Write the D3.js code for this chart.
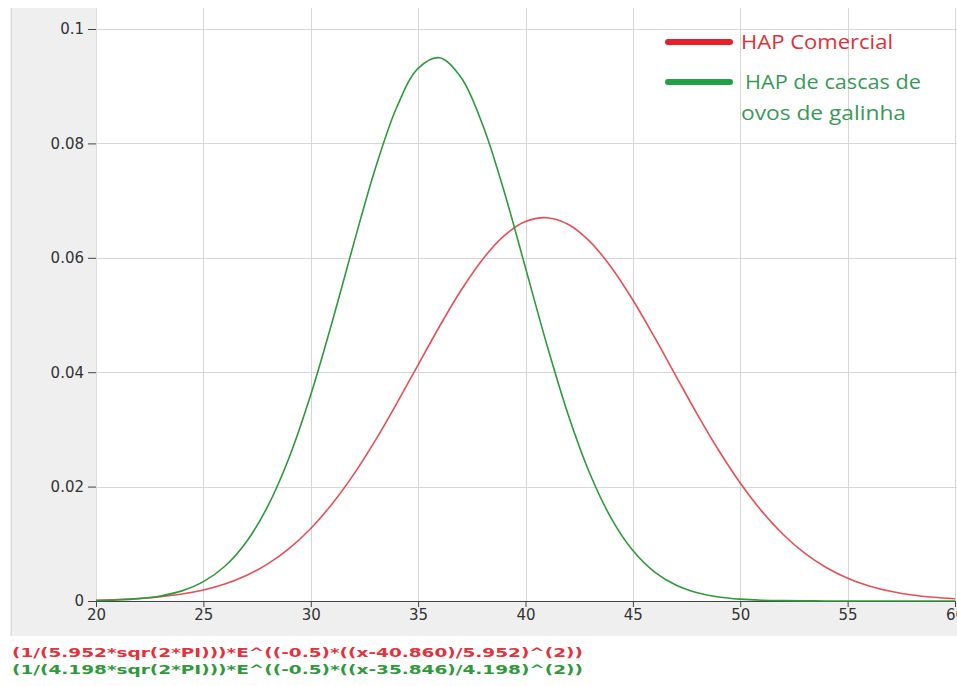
<!DOCTYPE html>
<html><head><meta charset="utf-8">
<script src="https://cdn.jsdelivr.net/npm/d3@7"></script>
<style>body{margin:0;background:#fff}svg{display:block}</style>
</head><body>
<script>
// x positions (integer steps) and curve values
const xValues = d3.range(20, 61);
const comercial = [0.000144,0.000256,0.000442,0.000743,0.00121,0.00193,0.00297,0.00445,0.00650,0.00920,
  0.01268,0.0170,0.02213,0.02803,0.03451,0.04129,0.04803,0.05432,0.05972,0.06383,
  0.06633,0.06701,0.06581,0.06283,0.05832,0.05262,0.04616,0.03937,0.03264,0.02631,
  0.02062,0.01571,0.01163,0.00837,0.00586,0.00399,0.00264,0.00170,0.00106,0.000644,0.000381];
const cascas = [0.0000766,0.000183,0.000413,0.000880,0.00177,0.00338,0.00607,0.01032,0.01657,0.02514,
  0.03604,0.04881,0.06246,0.07552,0.08627,0.09312,0.09497,0.09151,0.08331,0.07166,
  0.05824,0.04473,0.03245,0.02225,0.01441,0.00882,0.00510,0.00279,0.00144,0.000701,
  0.000323,0.000141,0.000058,0.000022,0.000008,0.000003,0,0,0,0,0];
const xTicks = [20,25,30,35,40,45,50,55,60];
const yTicks = [0,0.02,0.04,0.06,0.08,0.1];
const yTickLabels = ["0","0.02","0.04","0.06","0.08","0.1"];
const seriesNames = ["HAP Comercial", "HAP de cascas de|ovos de galinha"];
const formulas = ["(1/(5.952*sqr(2*PI)))*E^((-0.5)*((x-40.860)/5.952)^(2))",
                  "(1/(4.198*sqr(2*PI)))*E^((-0.5)*((x-35.846)/4.198)^(2))"];

const W = 957, H = 686;
const red = "#e0303a", green = "#2f9a3c";
const svg = d3.select("body").append("svg").attr("width", W).attr("height", H);

// gray panel
svg.append("rect").attr("x", 10).attr("y", 8).attr("width", W - 10).attr("height", 628).attr("fill", "#efefef");
svg.append("line").attr("x1", 11.5).attr("x2", 11.5).attr("y1", 8).attr("y2", 636).attr("stroke", "#dcdcdc");

const x = d3.scaleLinear().domain([20, 60]).range([96, 955]);
const y = d3.scaleLinear().domain([0, 0.1]).range([601, 29]);

// plot area
svg.append("rect").attr("x", 96).attr("y", 8).attr("width", W - 96).attr("height", 593).attr("fill", "#fff");
svg.append("line").attr("x1", 96.5).attr("x2", 96.5).attr("y1", 8).attr("y2", 601).attr("stroke", "#dddddd");

// grid
const g = svg.append("g");
g.selectAll(".vg").data(xTicks.slice(1)).join("line")
  .attr("x1", d => Math.round(x(d)) + 0.5).attr("x2", d => Math.round(x(d)) + 0.5)
  .attr("y1", 8).attr("y2", 601).attr("stroke", "#d6d6d6");
g.selectAll(".hg").data(yTicks.slice(1)).join("line")
  .attr("y1", d => Math.round(y(d)) + 0.5).attr("y2", d => Math.round(y(d)) + 0.5)
  .attr("x1", 96).attr("x2", W).attr("stroke", "#d6d6d6");

// axes
const xAxis = d3.axisBottom(x).tickValues(xTicks).tickSize(6).tickPadding(4).tickFormat(d3.format("d"));
const xg = svg.append("g").attr("transform", "translate(0,601)").call(xAxis);
xg.select(".domain").attr("stroke", "#444");
xg.selectAll(".tick line").attr("stroke", "#444");
xg.selectAll("text").attr("font-family", "DejaVu Sans, Verdana, sans-serif").attr("font-size", 15).attr("fill", "#333").attr("dy", "0.6em");

const yAxis = d3.axisLeft(y).tickValues(yTicks).tickSize(8).tickPadding(4).tickFormat((d, i) => yTickLabels[i]);
const yg = svg.append("g").attr("transform", "translate(96,0)").call(yAxis);
yg.select(".domain").remove();
yg.selectAll(".tick line").attr("stroke", "#444");
yg.selectAll("text").attr("font-family", "DejaVu Sans, Verdana, sans-serif").attr("font-size", 15).attr("fill", "#333");

// curves
const line = d3.line().x((d, i) => x(xValues[i])).y(d => y(d)).curve(d3.curveCatmullRom);
svg.append("path").datum(comercial).attr("d", line).attr("fill", "none").attr("stroke", red).attr("stroke-width", 1.6).attr("stroke-opacity", 0.85);
svg.append("path").datum(cascas).attr("d", line).attr("fill", "none").attr("stroke", green).attr("stroke-width", 1.6);

// legend
const leg = svg.append("g");
const legY = [42, 82];
const legLens = [[152], [176, 165]];
seriesNames.forEach((name, i) => {
  leg.append("line").attr("x1", 668).attr("x2", 730).attr("y1", legY[i]).attr("y2", legY[i])
    .attr("stroke", i === 0 ? "#e8202a" : "#22a045").attr("stroke-width", 6).attr("stroke-linecap", "round");
  name.split("|").forEach((part, j) => {
    leg.append("text").attr("x", i === 0 ? 741 : 745 - j * 4).attr("y", legY[i] + 7 + j * 31)
      .attr("font-family", "Open Sans, Noto Sans, sans-serif").attr("font-size", 20)
      .attr("textLength", legLens[i][j]).attr("lengthAdjust", "spacingAndGlyphs")
      .attr("fill", i === 0 ? "#e0303a" : "#3a9a55").text(part);
  });
});

// formulas
formulas.forEach((f, i) => {
  svg.append("text").attr("x", 12).attr("y", 657 + i * 17)
    .attr("font-family", "DejaVu Sans, Verdana, sans-serif").attr("font-size", 12.5).attr("font-weight", "bold")
    .attr("textLength", 571).attr("lengthAdjust", "spacingAndGlyphs")
    .attr("fill", i === 0 ? "#e8303a" : "#2f9a3a").text(f);
});
</script>
</body></html>
